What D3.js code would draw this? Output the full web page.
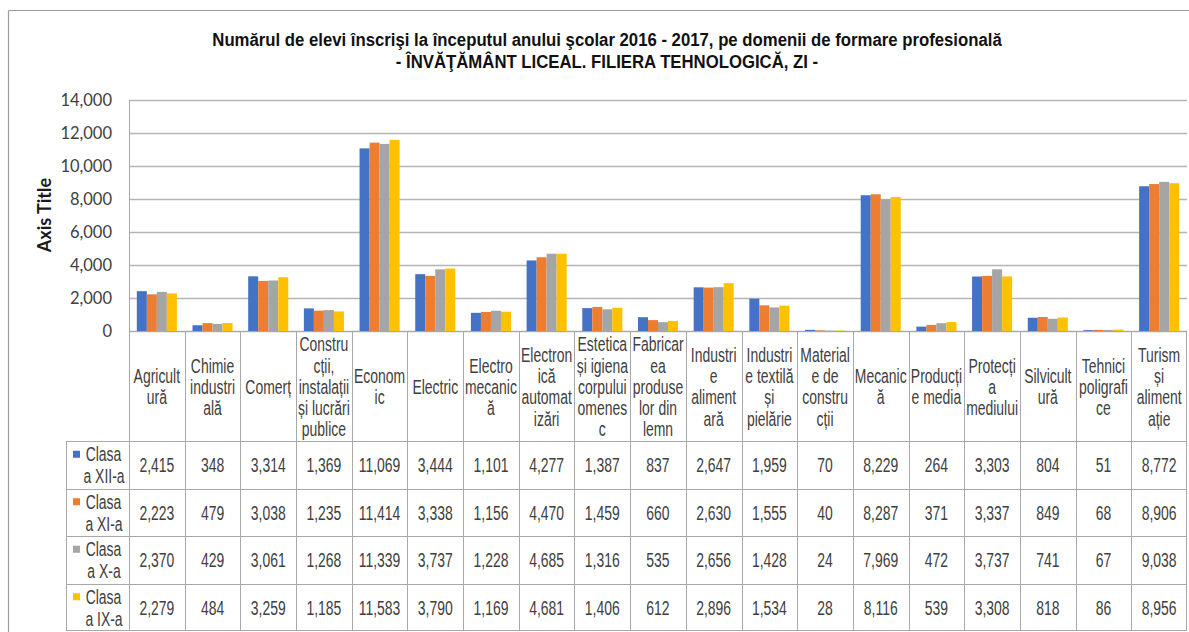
<!DOCTYPE html>
<html>
<head>
<meta charset="utf-8">
<script src="https://cdnjs.cloudflare.com/ajax/libs/d3/7.8.5/d3.min.js"></script>
<style>
  body { margin: 0; background: #fff; }
  svg { display: block; }
</style>
</head>
<body>
<div id="viz"></div>
<script>
// ---- data ----
var categories = ["Agricultură", "Chimie industrială", "Comerț", "Construcții, instalații și lucrări publice",
    "Economic", "Electric", "Electromecanică", "Electronică automatizări", "Estetica și igiena corpului omenesc",
    "Fabricarea produselor din lemn", "Industrie alimentară", "Industrie textilă și pielărie",
    "Materiale de construcții", "Mecanică", "Producție media", "Protecția mediului", "Silvicultură",
    "Tehnici poligrafice", "Turism și alimentație"];

// how the category names wrap in the table header
var categoryLines = [
    ["Agricult", "ură"], ["Chimie", "industri", "ală"], ["Comerț"],
    ["Constru", "cții,", "instalații", "și lucrări", "publice"], ["Econom", "ic"], ["Electric"],
    ["Electro", "mecanic", "ă"], ["Electron", "ică", "automat", "izări"],
    ["Estetica", "și igiena", "corpului", "omenes", "c"], ["Fabricar", "ea", "produse", "lor din", "lemn"],
    ["Industri", "e", "aliment", "ară"], ["Industri", "e textilă", "și", "pielărie"],
    ["Material", "e de", "constru", "cții"], ["Mecanic", "ă"], ["Producți", "e media"],
    ["Protecți", "a", "mediului"], ["Silvicult", "ură"], ["Tehnici", "poligrafi", "ce"],
    ["Turism", "și", "aliment", "ație"]];

var seriesNames = ["Clasa a XII-a", "Clasa a XI-a", "Clasa a X-a", "Clasa a IX-a"];
var legendLines = [["Clasa", "a XII-a"], ["Clasa", "a XI-a"], ["Clasa", "a X-a"], ["Clasa", "a IX-a"]];

var clasaXII = [2415, 348, 3314, 1369, 11069, 3444, 1101, 4277, 1387, 837, 2647, 1959, 70, 8229, 264, 3303, 804, 51, 8772];
var clasaXI  = [2223, 479, 3038, 1235, 11414, 3338, 1156, 4470, 1459, 660, 2630, 1555, 40, 8287, 371, 3337, 849, 68, 8906];
var clasaX   = [2370, 429, 3061, 1268, 11339, 3737, 1228, 4685, 1316, 535, 2656, 1428, 24, 7969, 472, 3737, 741, 67, 9038];
var clasaIX  = [2279, 484, 3259, 1185, 11583, 3790, 1169, 4681, 1406, 612, 2896, 1534, 28, 8116, 539, 3308, 818, 86, 8956];

var yTicks = [0, 2000, 4000, 6000, 8000, 10000, 12000, 14000];

var titleLine1 = "Numărul de elevi înscrişi la începutul anului şcolar 2016 - 2017, pe domenii de formare profesională";
var titleLine2 = "- ÎNVĂŢĂMÂNT LICEAL. FILIERA TEHNOLOGICĂ, ZI -";

var color = d3.scaleOrdinal()
    .domain(seriesNames)
    .range(["#4472C4", "#ED7D31", "#A5A5A5", "#FFC000"]);

var seriesValues = [clasaXII, clasaXI, clasaX, clasaIX];

// ---- layout ----
var W = 1189, H = 632;
var plot = {left: 129, right: 1187, top: 100, bottom: 331};
var tableLeft = 66, tableBottom = 631, headerBottom = 441;
var gridColor = "#b5b5b5", cellColor = "#a8a8a8";
var narrowFont = "'Liberation Sans', Arial, sans-serif";

var svg = d3.select("#viz").append("svg")
    .attr("width", W)
    .attr("height", H);

// chart frame (only top/left edges are visible in the picture)
svg.append("line").attr("x1", 8.5).attr("x2", 8.5).attr("y1", 10.5).attr("y2", H)
    .attr("stroke", "#9a9a9a").attr("stroke-width", 1.2);
svg.append("line").attr("x1", 8.5).attr("x2", W).attr("y1", 10.5).attr("y2", 10.5)
    .attr("stroke", "#9a9a9a").attr("stroke-width", 1.2);

// scales
var xScale = d3.scaleBand()
    .domain(categories)
    .range([plot.left, plot.right])
    .padding(0);
var x1 = d3.scaleBand()
    .domain(seriesNames)
    .range([0, xScale.bandwidth()])
    .paddingInner(0)
    .paddingOuter(0.78);
var yScale = d3.scaleLinear()
    .domain([0, 14000])
    .range([plot.bottom, plot.top]);
var rowScale = d3.scaleBand()
    .domain(seriesNames)
    .range([headerBottom, tableBottom]);

// narrow (condensed, stretched) text helper, like the Excel picture
function narrowText(parent, x, y, str, size, weight, fill) {
    return parent.append("text")
        .attr("transform", "translate(" + x + "," + y + ") scale(0.82,1.23)")
        .attr("text-anchor", "middle")
        .attr("dy", "0.35em")
        .style("font-family", narrowFont)
        .style("font-size", size + "px")
        .style("font-weight", weight || "normal")
        .attr("fill", fill || "#404040")
        .text(str);
}

// title
var tg = svg.append("g");
var t1 = tg.append("text").attr("x", 0).attr("y", 0)
    .style("font-family", narrowFont).style("font-size", "16px").style("font-weight", "bold")
    .attr("fill", "#111").attr("text-anchor", "middle").text(titleLine1);
var sx = 790 / t1.node().getComputedTextLength();
t1.attr("transform", "translate(607,46) scale(" + sx + ",1.12)");
tg.append("text").attr("x", 0).attr("y", 0)
    .style("font-family", narrowFont).style("font-size", "16px").style("font-weight", "bold")
    .attr("fill", "#111").attr("text-anchor", "middle")
    .attr("transform", "translate(607,67.5) scale(" + sx + ",1.12)")
    .text(titleLine2);

// y axis + gridlines
var yAxis = d3.axisLeft(yScale)
    .tickValues(yTicks)
    .tickSize(-(plot.right - plot.left))
    .tickPadding(17)
    .tickFormat(d3.format(","));
var gy = svg.append("g")
    .attr("transform", "translate(" + plot.left + ",0)")
    .call(yAxis);
gy.select(".domain").remove();
gy.selectAll(".tick line").attr("stroke", gridColor).attr("stroke-width", 1.3);
gy.selectAll(".tick text")
    .style("font-family", "Lato, 'Open Sans', sans-serif")
    .style("font-size", "16.5px")
    .attr("fill", "#404040");

// axis title
svg.append("text")
    .attr("transform", "translate(45,215) rotate(-90)")
    .attr("text-anchor", "middle")
    .attr("dy", "0.35em")
    .style("font-family", "Lato, 'Open Sans', sans-serif")
    .style("font-size", "18px")
    .style("font-weight", "bold")
    .attr("fill", "#1a1a1a")
    .text("Axis Title");

// plot area left edge
svg.append("line")
    .attr("x1", plot.left + 0.5).attr("x2", plot.left + 0.5)
    .attr("y1", plot.top).attr("y2", plot.bottom)
    .attr("stroke", cellColor).attr("stroke-width", 1);

// bars
var groups = svg.selectAll(".grp")
    .data(categories)
    .enter().append("g")
    .attr("class", "grp")
    .attr("transform", function(d) { return "translate(" + xScale(d) + ",0)"; });

groups.selectAll("rect")
    .data(function(d, i) {
        return seriesNames.map(function(s, j) { return {series: s, value: seriesValues[j][i]}; });
    })
    .enter().append("rect")
    .attr("x", function(d) { return x1(d.series); })
    .attr("width", x1.bandwidth())
    .attr("y", function(d) { return yScale(d.value); })
    .attr("height", function(d) { return yScale(0) - yScale(d.value); })
    .attr("fill", function(d) { return color(d.series); });

// ---- data table ----
var table = svg.append("g").attr("class", "table");

// horizontal rules
table.append("line")
    .attr("x1", plot.left).attr("x2", plot.right)
    .attr("y1", plot.bottom + 0.5).attr("y2", plot.bottom + 0.5)
    .attr("stroke", cellColor);
seriesNames.forEach(function(s) {
    table.append("line")
        .attr("x1", tableLeft).attr("x2", plot.right)
        .attr("y1", Math.round(rowScale(s)) + 0.5).attr("y2", Math.round(rowScale(s)) + 0.5)
        .attr("stroke", cellColor);
});
table.append("line")
    .attr("x1", tableLeft).attr("x2", plot.right)
    .attr("y1", tableBottom - 0.5).attr("y2", tableBottom - 0.5)
    .attr("stroke", cellColor);

// vertical rules
table.append("line")
    .attr("x1", tableLeft + 0.5).attr("x2", tableLeft + 0.5)
    .attr("y1", headerBottom).attr("y2", tableBottom)
    .attr("stroke", cellColor);
categories.forEach(function(c) {
    var xx = Math.round(xScale(c)) + 0.5;
    table.append("line")
        .attr("x1", xx).attr("x2", xx)
        .attr("y1", plot.bottom).attr("y2", tableBottom)
        .attr("stroke", cellColor);
});
table.append("line")
    .attr("x1", plot.right - 0.5).attr("x2", plot.right - 0.5)
    .attr("y1", plot.bottom).attr("y2", tableBottom)
    .attr("stroke", cellColor);

// header labels
var headMid = (plot.bottom + headerBottom) / 2 + 0.5;
var lineGap = 21.3;
categories.forEach(function(c, i) {
    var lines = categoryLines[i];
    var cx = xScale(c) + xScale.bandwidth() / 2;
    lines.forEach(function(l, k) {
        var yy = headMid + (k - (lines.length - 1) / 2) * lineGap;
        narrowText(table, cx, yy, l, 17, "normal", "#404040");
    });
});

// legend cells and values
var fmt = d3.format(",");
seriesNames.forEach(function(s, j) {
    var top = rowScale(s);
    var mid = top + rowScale.bandwidth() / 2;
    table.append("rect")
        .attr("x", 73).attr("y", mid - 14)
        .attr("width", 7).attr("height", 7)
        .attr("fill", color(s));
    narrowText(table, 103.5, mid - 11, legendLines[j][0], 17);
    narrowText(table, 104, mid + 11, legendLines[j][1], 17);

    categories.forEach(function(c, i) {
        narrowText(table, xScale(c) + xScale.bandwidth() / 2, mid, fmt(seriesValues[j][i]), 17);
    });
});
</script>
</body>
</html>
